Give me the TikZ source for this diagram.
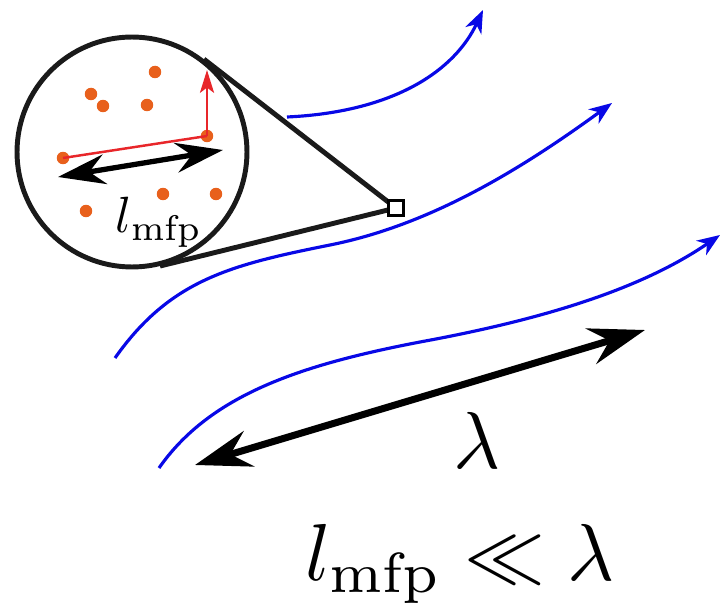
\documentclass[tikz,border=0pt]{standalone}
\usepackage{graphicx}
\usetikzlibrary{arrows.meta,calc}
\definecolor{dotor}{HTML}{E8601C}
\definecolor{redar}{HTML}{E8262A}
\definecolor{circol}{HTML}{1A1A1A}
\definecolor{flow}{HTML}{0808E6}
\begin{document}
\begin{tikzpicture}[x=0.02cm,y=-0.02cm,
  stream/.style={flow, line width=1.8pt, -{Stealth[length=13pt,width=10pt,inset=4pt]}},
  dotn/.style={circle, fill=dotor, inner sep=0pt, minimum size=0.25cm},
  tline/.style={circol, line width=2.8pt},
  dbl/.style={line width=3pt, {Stealth[length=27pt,width=17pt,inset=9pt]}-{Stealth[length=27pt,width=17pt,inset=9pt]}},
  bigdbl/.style={line width=4pt, {Stealth[length=32pt,width=21pt,inset=11pt]}-{Stealth[length=32pt,width=21pt,inset=11pt]}}]
\useasboundingbox (0,0) rectangle (721,608);
% streamlines
\coordinate (s1a) at (287,117); \coordinate (s1b) at (483,10);
\coordinate (s2a) at (115,358); \coordinate (s2m) at (330,245); \coordinate (s2b) at (612,103);
\coordinate (s3a) at (159,468); \coordinate (s3m) at (420,342); \coordinate (s3b) at (720,235);
\draw[stream] (s1a) .. controls (395,112) and (455,70) .. (s1b);
\draw[stream] (s2a) .. controls (170,280) and (230,265) .. (s2m) .. controls (430,225) and (520,170) .. (s2b);
\draw[stream] (s3a) .. controls (210,395) and (300,365) .. (s3m) .. controls (540,320) and (640,290) .. (s3b);
% magnifier
\node[circle, draw=circol, fill=white, line width=2.8pt, minimum size=4.6cm, inner sep=0pt] (lens) at (132,152) {};
\coordinate (p) at (396,208);
\draw[tline] (p) -- (tangent cs:node=lens,point={(p)},solution=1);
\draw[tline] (p) -- (tangent cs:node=lens,point={(p)},solution=2);
\node[draw=black, fill=white, line width=1.4pt, minimum size=0.3cm, inner sep=0pt] (sq) at (p) {};
% particles
\node[dotn] (d1) at (155,72) {};
\node[dotn] (d2) at (91,94) {};
\node[dotn] (d3) at (103,106) {};
\node[dotn] (d4) at (147,105) {};
\node[dotn] (d5) at (207,136) {};
\node[dotn] (d6) at (63,158) {};
\node[dotn] (d7) at (163,194) {};
\node[dotn] (d8) at (216,194) {};
\node[dotn] (d9) at (86,211) {};
\coordinate (rt) at (207,70);
\draw[redar, line width=1.4pt] (d6.center) -- (d5.center);
\draw[redar, line width=1.4pt, -{Stealth[length=13pt,width=8pt,inset=3pt]}] (d5.center) -- (rt);
\coordinate (a1) at (58,177); \coordinate (a2) at (223,150);
\draw[dbl] (a1) -- (a2);
\node[anchor=base, inner sep=0pt] (lm) at (159,233) {\scalebox{2.9}{$l_{\mathrm{mfp}}$}};
% wavelength
\coordinate (b1) at (195,465); \coordinate (b2) at (645,330);
\draw[bigdbl] (b1) -- (b2);
\node[anchor=base, inner sep=0pt] (lam) at (477,468) {\scalebox{4.6}{$\lambda$}};
\node[anchor=base, inner sep=0pt] (rel) at (460,580) {\scalebox{4.6}{$l_{\mathrm{mfp}} \ll \lambda$}};
\end{tikzpicture}
\end{document}
